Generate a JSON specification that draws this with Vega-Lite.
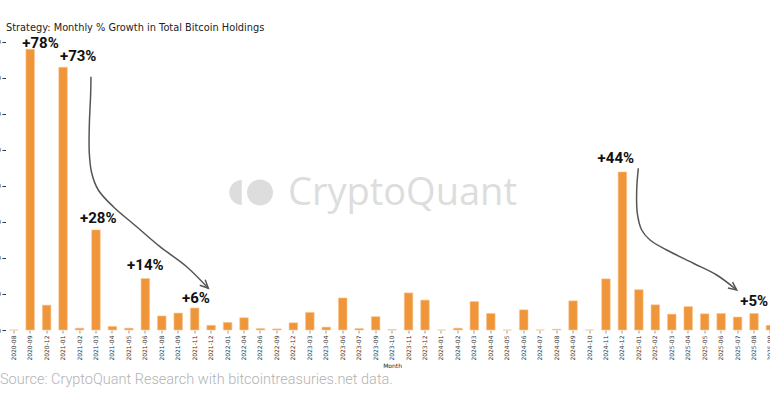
{
  "$schema": "https://vega.github.io/schema/vega-lite/v6.json",
  "width": 764.5,
  "height": 295,
  "autosize": {"type": "none"},
  "padding": {"left": 5.5, "top": 35, "right": 0, "bottom": 70},
  "background": "white",
  "config": {"view": {"stroke": null}},
  "title": {
    "text": "Strategy: Monthly % Growth in Total Bitcoin Holdings",
    "anchor": "start",
    "frame": "group",
    "offset": 3,
    "dy": 9,
    "baseline": "alphabetic",
    "font": "DejaVu Sans",
    "fontSize": 9.8,
    "fontWeight": "normal",
    "color": "#222222",
    "dx": 0.5
  },
  "datasets": {
    "bars": [
      {"month": "2020-08", "value": 0.0},
      {"month": "2020-09", "value": 78.0},
      {"month": "2020-12", "value": 6.9},
      {"month": "2021-01", "value": 73.0},
      {"month": "2021-02", "value": 0.5},
      {"month": "2021-03", "value": 27.8},
      {"month": "2021-04", "value": 1.0},
      {"month": "2021-05", "value": 0.5},
      {"month": "2021-06", "value": 14.3},
      {"month": "2021-08", "value": 3.9},
      {"month": "2021-09", "value": 4.7},
      {"month": "2021-11", "value": 6.1},
      {"month": "2021-12", "value": 1.3},
      {"month": "2022-01", "value": 2.1},
      {"month": "2022-04", "value": 3.4},
      {"month": "2022-06", "value": 0.4},
      {"month": "2022-09", "value": 0.3},
      {"month": "2022-12", "value": 2.0},
      {"month": "2023-03", "value": 4.9},
      {"month": "2023-04", "value": 0.8},
      {"month": "2023-06", "value": 8.9},
      {"month": "2023-07", "value": 0.4},
      {"month": "2023-09", "value": 3.7},
      {"month": "2023-10", "value": 0.1},
      {"month": "2023-11", "value": 10.3},
      {"month": "2023-12", "value": 8.3},
      {"month": "2024-01", "value": 0.0},
      {"month": "2024-02", "value": 0.5},
      {"month": "2024-03", "value": 7.9},
      {"month": "2024-04", "value": 4.6},
      {"month": "2024-05", "value": 0.0},
      {"month": "2024-06", "value": 5.6},
      {"month": "2024-07", "value": 0.0},
      {"month": "2024-08", "value": 0.2},
      {"month": "2024-09", "value": 8.1},
      {"month": "2024-10", "value": 0.0},
      {"month": "2024-11", "value": 14.2},
      {"month": "2024-12", "value": 43.9},
      {"month": "2025-01", "value": 11.2},
      {"month": "2025-02", "value": 7.0},
      {"month": "2025-03", "value": 4.4},
      {"month": "2025-04", "value": 6.5},
      {"month": "2025-05", "value": 4.5},
      {"month": "2025-06", "value": 4.6},
      {"month": "2025-07", "value": 3.6},
      {"month": "2025-08", "value": 4.6},
      {"month": "2025-09", "value": 1.3}
    ],
    "labels": [
      {"text": "+78%", "xi": 1.63, "y": 78.25},
      {"text": "+73%", "xi": 3.92, "y": 74.72},
      {"text": "+28%", "xi": 5.14, "y": 29.64},
      {"text": "+14%", "xi": 8.0, "y": 16.67},
      {"text": "+6%", "xi": 11.08, "y": 7.42},
      {"text": "+44%", "xi": 36.6, "y": 46.3},
      {"text": "+5%", "xi": 45.01, "y": 6.75}
    ],
    "arrows": [
      {"arrow": "a1", "part": "curve", "k": 1, "xi": 4.696, "y": 70.36},
      {"arrow": "a1", "part": "curve", "k": 2, "xi": 4.678, "y": 65.83},
      {"arrow": "a1", "part": "curve", "k": 3, "xi": 4.593, "y": 56.47},
      {"arrow": "a1", "part": "curve", "k": 4, "xi": 4.593, "y": 49.17},
      {"arrow": "a1", "part": "curve", "k": 5, "xi": 4.739, "y": 43.61},
      {"arrow": "a1", "part": "curve", "k": 6, "xi": 5.14, "y": 38.89},
      {"arrow": "a1", "part": "curve", "k": 7, "xi": 6.052, "y": 34.25},
      {"arrow": "a1", "part": "curve", "k": 8, "xi": 7.474, "y": 28.69},
      {"arrow": "a1", "part": "curve", "k": 9, "xi": 8.891, "y": 23.14},
      {"arrow": "a1", "part": "curve", "k": 10, "xi": 10.514, "y": 17.58},
      {"arrow": "a1", "part": "curve", "k": 11, "xi": 11.827, "y": 11.58},
      {"arrow": "a1", "part": "head", "k": 1, "xi": 11.638, "y": 13.94},
      {"arrow": "a1", "part": "head", "k": 2, "xi": 11.827, "y": 11.58},
      {"arrow": "a1", "part": "head", "k": 3, "xi": 11.31, "y": 12.44},
      {"arrow": "a2", "part": "curve", "k": 1, "xi": 37.967, "y": 44.92},
      {"arrow": "a2", "part": "curve", "k": 2, "xi": 37.869, "y": 38.89},
      {"arrow": "a2", "part": "curve", "k": 3, "xi": 37.906, "y": 32.42},
      {"arrow": "a2", "part": "curve", "k": 4, "xi": 38.173, "y": 27.78},
      {"arrow": "a2", "part": "curve", "k": 5, "xi": 38.678, "y": 25.0},
      {"arrow": "a2", "part": "curve", "k": 6, "xi": 39.693, "y": 22.22},
      {"arrow": "a2", "part": "curve", "k": 7, "xi": 41.31, "y": 18.53},
      {"arrow": "a2", "part": "curve", "k": 8, "xi": 42.733, "y": 15.28},
      {"arrow": "a2", "part": "curve", "k": 9, "xi": 43.948, "y": 11.11},
      {"arrow": "a2", "part": "head", "k": 1, "xi": 43.693, "y": 13.31},
      {"arrow": "a2", "part": "head", "k": 2, "xi": 43.948, "y": 11.11},
      {"arrow": "a2", "part": "head", "k": 3, "xi": 43.413, "y": 11.64}
    ],
    "notes": [
      {"kind": "source", "text": "Source: CryptoQuant Research with bitcointreasuries.net data.", "xi": -0.836, "y": -15.0},
      {"kind": "watermark", "text": "CryptoQuant", "xi": 16.67, "y": 34.72}
    ],
    "logo": [
      {"part": "left", "xi": 13.48, "y": 38.19},
      {"part": "disc", "xi": 14.97, "y": 38.19}
    ]
  },
  "resolve": {"scale": {"x": "independent"}},
  "layer": [
    {
      "data": {"name": "bars"},
      "mark": {"type": "bar", "color": "#f0963a", "stroke": "#f8c690", "strokeWidth": 0.6},
      "encoding": {
        "x": {
          "field": "month",
          "type": "ordinal",
          "sort": null,
          "scale": {"range": [0, 773.2], "paddingInner": 0.48, "paddingOuter": 0.24},
          "axis": {
            "title": "Month",
            "titleFont": "DejaVu Sans",
            "titleFontSize": 6,
            "titleFontWeight": "normal",
            "titleColor": "#222222",
            "titlePadding": 2,
            "labelAngle": -90,
            "labelFont": "DejaVu Sans",
            "labelFontSize": 6,
            "labelColor": "#333333",
            "labelPadding": 2,
            "labelOverlap": false,
            "tickSize": 3,
            "tickColor": "#555555",
            "tickWidth": 0.6,
            "domain": false,
            "grid": false
          }
        },
        "y": {
          "field": "value",
          "type": "quantitative",
          "scale": {"domain": [0, 81.94], "nice": false, "zero": true},
          "axis": {
            "title": null,
            "values": [0, 10, 20, 30, 40, 50, 60, 70, 80],
            "tickCount": 9,
            "labelOverlap": false,
            "labelFont": "DejaVu Sans",
            "labelFontSize": 6,
            "labelColor": "#333333",
            "labelPadding": 1.5,
            "tickSize": 3.5,
            "tickColor": "#333333",
            "tickWidth": 1,
            "domain": false,
            "grid": false
          }
        }
      }
    },
    {
      "layer": [
        {
          "data": {"name": "notes"},
          "transform": [{"filter": "datum.kind === 'watermark'"}],
          "mark": {"type": "text", "align": "left", "baseline": "alphabetic", "font": "Open Sans", "fontSize": 38, "color": "#dddddd"},
          "encoding": {
            "x": {"field": "xi", "type": "quantitative", "scale": {"domain": [-0.5, 46.5], "range": [0, 773.2], "nice": false, "zero": false}, "axis": null},
            "y": {"field": "y", "type": "quantitative"},
            "text": {"field": "text"}
          }
        },
        {
          "data": {"name": "logo"},
          "transform": [{"filter": "datum.part === 'disc'"}],
          "mark": {"type": "point", "shape": "circle", "filled": true, "color": "#dddddd", "opacity": 1, "size": 676},
          "encoding": {
            "x": {"field": "xi", "type": "quantitative", "scale": {"domain": [-0.5, 46.5], "range": [0, 773.2], "nice": false, "zero": false}, "axis": null},
            "y": {"field": "y", "type": "quantitative"}
          }
        },
        {
          "data": {"name": "logo"},
          "transform": [{"filter": "datum.part === 'left'"}],
          "mark": {"type": "point", "shape": "M 0.5 -1 A 1 1 0 0 0 0.5 1 Z", "filled": true, "color": "#dddddd", "opacity": 1, "size": 625},
          "encoding": {
            "x": {"field": "xi", "type": "quantitative", "scale": {"domain": [-0.5, 46.5], "range": [0, 773.2], "nice": false, "zero": false}, "axis": null},
            "y": {"field": "y", "type": "quantitative"}
          }
        },
        {
          "data": {"name": "arrows"},
          "transform": [{"filter": "datum.part === 'curve'"}],
          "mark": {"type": "line", "interpolate": "catmull-rom", "color": "#555555", "strokeWidth": 1.5},
          "encoding": {
            "x": {"field": "xi", "type": "quantitative", "scale": {"domain": [-0.5, 46.5], "range": [0, 773.2], "nice": false, "zero": false}, "axis": null},
            "y": {"field": "y", "type": "quantitative"},
            "detail": {"field": "arrow"},
            "order": {"field": "k"}
          }
        },
        {
          "data": {"name": "arrows"},
          "transform": [{"filter": "datum.part === 'head'"}],
          "mark": {"type": "line", "interpolate": "linear", "color": "#555555", "strokeWidth": 1.5},
          "encoding": {
            "x": {"field": "xi", "type": "quantitative", "scale": {"domain": [-0.5, 46.5], "range": [0, 773.2], "nice": false, "zero": false}, "axis": null},
            "y": {"field": "y", "type": "quantitative"},
            "detail": {"field": "arrow"},
            "order": {"field": "k"}
          }
        },
        {
          "data": {"name": "labels"},
          "mark": {"type": "text", "align": "center", "baseline": "alphabetic", "font": "Roboto", "fontWeight": "bold", "fontSize": 15, "color": "#111111"},
          "encoding": {
            "x": {"field": "xi", "type": "quantitative", "scale": {"domain": [-0.5, 46.5], "range": [0, 773.2], "nice": false, "zero": false}, "axis": null},
            "y": {"field": "y", "type": "quantitative"},
            "text": {"field": "text"}
          }
        },
        {
          "data": {"name": "notes"},
          "transform": [{"filter": "datum.kind === 'source'"}],
          "mark": {"type": "text", "align": "left", "baseline": "alphabetic", "font": "Roboto", "fontWeight": 300, "fontSize": 14.5, "color": "#b3b3b3"},
          "encoding": {
            "x": {"field": "xi", "type": "quantitative", "scale": {"domain": [-0.5, 46.5], "range": [0, 773.2], "nice": false, "zero": false}, "axis": null},
            "y": {"field": "y", "type": "quantitative"},
            "text": {"field": "text"}
          }
        }
      ]
    }
  ]
}
